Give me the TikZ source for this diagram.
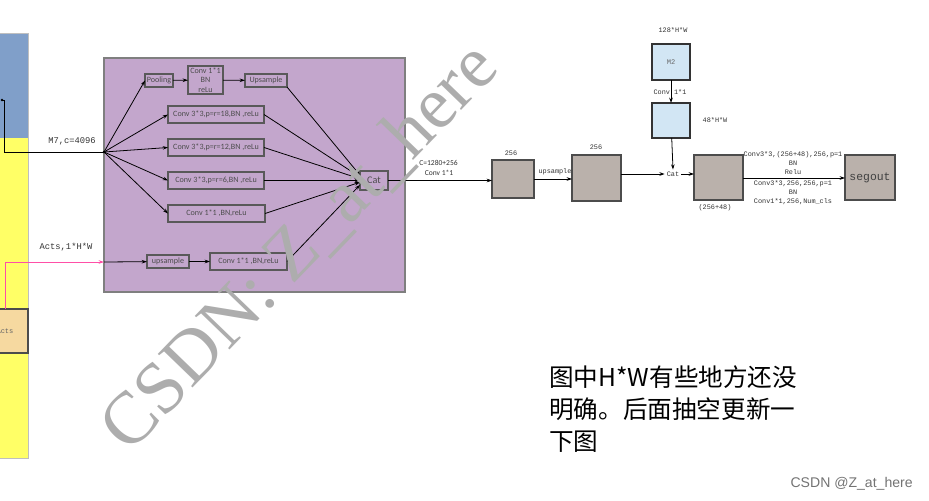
\documentclass[tikz,border=0pt]{standalone}
\usepackage{fontspec}
\setmainfont{Liberation Serif}
\setsansfont{Carlito}
\setmonofont{Liberation Mono}
\newfontfamily\cjk{Noto Sans CJK SC}
\newfontfamily\arialfont{Liberation Sans}
\usetikzlibrary{arrows.meta}

\definecolor{asppfill}{HTML}{C3A6CC}
\definecolor{asppedge}{HTML}{7F7F7F}
\definecolor{featgray}{HTML}{BAB1AB}
\definecolor{lowblue}{HTML}{D2E6F4}
\definecolor{backblue}{HTML}{809FC9}
\definecolor{backyellow}{HTML}{FFFF66}
\definecolor{actsfill}{HTML}{F6D9A0}
\definecolor{actspink}{HTML}{FF4FA7}
\definecolor{optext}{HTML}{4D4D4D}

\tikzset{
  bx/.style 2 args={draw, minimum width=#1*0.02cm, minimum height=#2*0.02cm, inner sep=0pt, outer sep=0pt},
  opbox/.style={font=\sffamily\fontsize{4.6}{5.4}\selectfont, text=optext, fill=asppfill, draw=black!65, line width=0.6pt, align=center},
  featbox/.style={fill=featgray, draw=black!70, line width=0.6pt},
  bluebox/.style={fill=lowblue, draw=black!80, line width=0.6pt, font=\ttfamily\fontsize{4}{5}\selectfont, text=black!60},
  lbl/.style={font=\ttfamily\fontsize{3.9}{5.1}\selectfont, text=black!80, inner sep=0pt, align=center},
  sflbl/.style={font=\sffamily\fontsize{4.3}{5.2}\selectfont, text=black!80, inner sep=0pt},
  arr/.style={-{Stealth[length=3pt,width=2pt]}, line width=0.45pt},
}

\begin{document}
\begin{tikzpicture}[x=0.02cm, y=-0.02cm]
    \useasboundingbox (0,0) rectangle (929,500);
    \clip (0,0) rectangle (929,500);

    % left backbone strip
    \fill[backblue] (0,33) rectangle (28,138);
    \fill[backyellow] (0,138) rectangle (28,458);
    \draw[black!25] (0,33) -- (28,33) -- (28,458) -- (0,458);
    \node[bx={46}{44}, fill=actsfill, draw=black!70, line width=0.6pt,
          font=\ttfamily\fontsize{4}{5}\selectfont, text=black!60] (acts) at (5,331) {Acts};

    % ASPP block
    \node[bx={301}{234}, fill=asppfill, draw=asppedge, line width=0.8pt] (aspp) at (254.5,175) {};
    \coordinate (src) at (104,152);
    \coordinate (actsin) at (104,262);

    \node[bx={28}{13}, opbox] (pool) at (159,80.5) {Pooling};
    \node[bx={35}{28}, opbox] (conva) at (205.5,80) {Conv 1*1\\BN\\reLu};
    \node[bx={42}{13}, opbox] (upsa) at (266,80.5) {Upsample};
    \node[bx={96}{17}, opbox] (rate18) at (216,114.5) {Conv 3*3,p=r=18,BN ,reLu};
    \node[bx={96}{17}, opbox] (rate12) at (216,147.5) {Conv 3*3,p=r=12,BN ,reLu};
    \node[bx={96}{17}, opbox] (rate6) at (216,180.5) {Conv 3*3,p=r=6,BN ,reLu};
    \node[bx={97}{17}, opbox] (convb) at (216.5,213.5) {Conv 1*1 ,BN,reLu};
    \node[bx={42}{13}, opbox] (upsb) at (168,261.5) {upsample};
    \node[bx={77}{17}, opbox] (convc) at (248.5,261.5) {Conv 1*1 ,BN,reLu};
    \node[bx={28}{19}, opbox, font=\sffamily\fontsize{5.8}{6.2}\selectfont] (cat) at (374,180.5) {Cat};

    % inputs
    \coordinate (m7) at (2,100);
    \fill (m7) circle (1.3);
    \draw[line width=0.5pt] (m7) -- ++(2,0) |- (src);
    \node[lbl, font=\ttfamily\fontsize{5}{6}\selectfont] at (72,141) {M7,c=4096};
    \draw[arr, actspink] (acts.north) |- (actsin);
    \node[lbl, font=\ttfamily\fontsize{5}{6}\selectfont] at (66,247) {Acts,1*H*W};
    \fill (src) circle (1.3);

    % branches
    \foreach \b in {pool,rate18,rate12,rate6,convb}
        \draw[arr] (src) -- (\b.west);
    \draw[arr] (pool) -- (conva);
    \draw[arr] (conva) -- (upsa);
    \draw[arr] (actsin) -- (upsb);
    \draw[arr] (upsb) -- (convc);
    \draw[arr] (upsa.south east) -- ([yshift=3pt]cat.west);
    \draw[arr] (rate18.east) -- ([yshift=2pt]cat.west);
    \draw[arr] (rate12.east) -- ([yshift=1pt]cat.west);
    \draw[arr] (rate6.east) -- (cat.west);
    \draw[arr] (convb.east) -- ([yshift=-1pt]cat.west);
    \draw[arr] (convc.east) -- ([yshift=-2.5pt]cat.west);

    % decoder
    \node[bx={42}{38}, featbox] (feata) at (513,179) {};
    \node[bx={49}{46}, featbox] (featb) at (596.5,178) {};
    \node[lbl] at (511,153) {256};
    \node[lbl] at (596,147) {256};
    \draw[arr] (cat.east) -- (cat.east -| feata.west);
    \node[sflbl] at (438.5,163) {C=1280+256};
    \node[sflbl] at (439,173) {Conv 1*1};
    \draw[arr] (feata.east) -- (feata.east -| featb.west);
    \node[lbl] at (555,172) {upsample};

    \node[bx={38}{36}, bluebox] (mtwo) at (671,62) {M2};
    \node[bx={38}{35}, bluebox] (mlow) at (671,120.5) {};
    \node[lbl] at (673,30) {128*H*W};
    \node[lbl] at (715,120) {48*H*W};
    \draw[arr] (mtwo) -- (mlow);
    \node[lbl] at (670,92) {Conv 1*1};
    \node[lbl, inner sep=1pt] (catb) at (673,174) {Cat};
    \draw[arr] (featb.east |- catb) -- (catb.west);
    \draw[arr] (mlow) -- (catb.north);

    \node[bx={49}{45}, featbox] (featc) at (718.5,177.5) {};
    \node[lbl] at (715,208) {(256+48)};
    \draw[arr] (catb.east) -- (catb.east -| featc.west);
    \node[bx={50}{45}, featbox, font=\ttfamily\fontsize{6.5}{7.5}\selectfont, text=black!75] (seg) at (870,177.5) {segout};
    \draw[arr] (featc.east |- 0,178) -- (seg.west |- 0,178);
    \node[lbl, anchor=south] at (793,175) {Conv3*3,(256+48),256,p=1\\BN\\Relu};
    \node[lbl, anchor=north] at (793,180) {Conv3*3,256,256,p=1\\BN\\Conv1*1,256,Num\_cls};

    % note
    \node[anchor=north west, align=left, inner sep=0pt, font=\cjk\fontsize{14}{18.2}\selectfont]
        at (549,365) {图中H*W有些地方还没\\明确。后面抽空更新一\\下图};

    % watermarks
    \node[rotate=46, font=\fontsize{42}{42}\selectfont, text=black!32]
        at (300,248) {\special{pdf:content 1 Tr 0.5 w}CSDN: Z\_at\_here\special{pdf:content 0 Tr}};
    \node[anchor=east, font=\arialfont\fontsize{8}{9}\selectfont, text=black!55, inner sep=0pt]
        at (913,484) {CSDN @Z\_at\_here};
\end{tikzpicture}
\end{document}
